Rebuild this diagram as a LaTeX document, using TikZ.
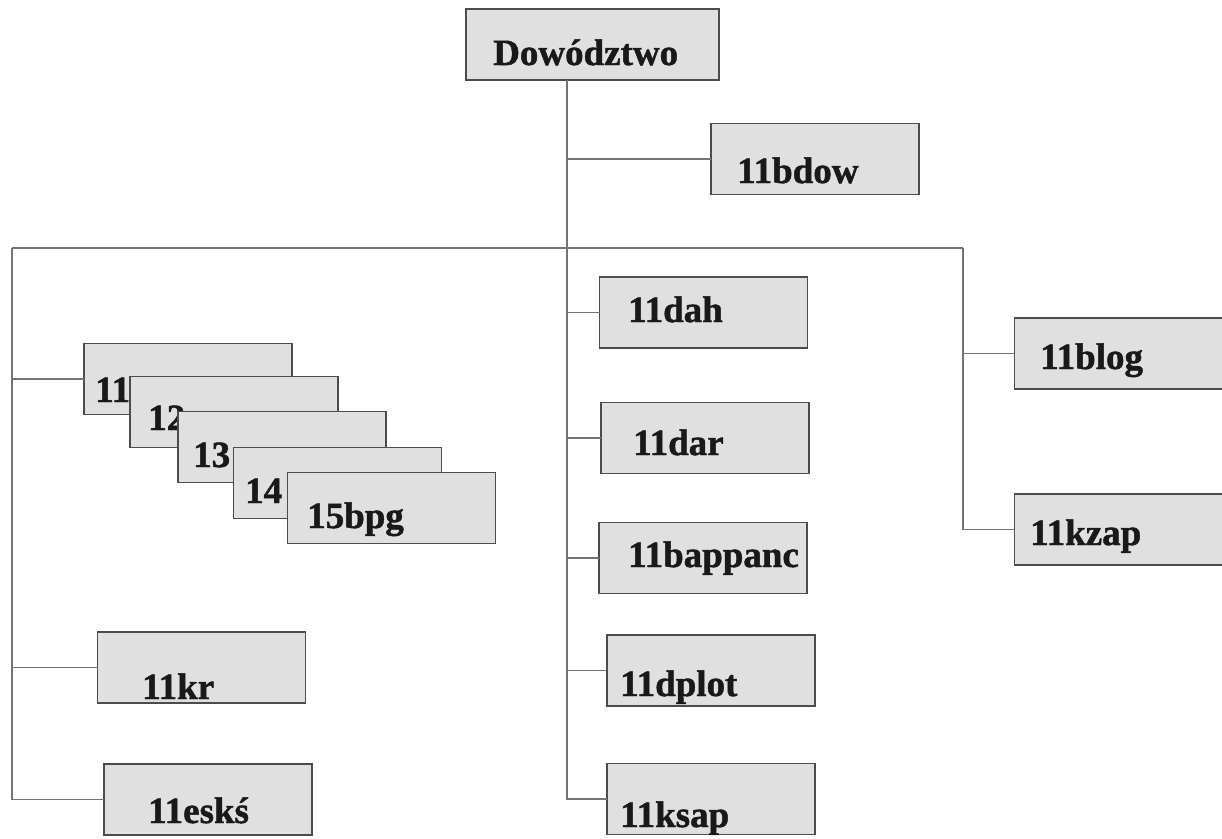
\documentclass[tikz,border=0pt]{standalone}
\usepackage{fontspec}
\setmainfont{Liberation Serif}
\newfontfamily\unitfont{Liberation Serif Bold}[FakeBold=1.2]
\usetikzlibrary{calc}

\begin{document}
\begin{tikzpicture}[
    x=1pt, y=-1pt, % work in pixels of the sheet, y downwards
    unitbox/.style={draw=black!70, line width=1.3pt, fill=black!12,
        minimum width=208pt, minimum height=71pt, inner sep=0pt, outer sep=0pt}, % Style for a unit box
    unitlabel/.style={anchor=base west, inner sep=0pt, text=black!90,
        font=\unitfont\fontsize{37}{40}\selectfont}, % Style for the unit names
    orgline/.style={draw=black!55, line width=1.1pt} % Style for the tree lines
]
    \useasboundingbox (0,0) rectangle (1222,838);

    % --- Headquarters ---
    \node[unitbox, minimum width=253pt] (dow) at (592.5,44.5) {};
    \node[unitlabel] (dow-lbl) at (493,65) {Dowództwo};

    % Tree skeleton
    \coordinate (trunk) at (567,80);    % top of the main line
    \coordinate (lcorner) at (12,248);  % left branch corner
    \coordinate (rcorner) at (963,248); % right branch corner

    % --- Units along the main line ---
    \foreach \n/\cx/\cy/\tx/\ty/\t in {bdow/815/159/737/183/11bdow,
        dah/703.5/312.5/628/322/11dah, dar/705/438/633/455/11dar,
        bappanc/703/558/628/567/11bappanc, dplot/711/670.5/620/696/11dplot,
        ksap/711/799/620/827/11ksap} {
        \node[unitbox] (\n) at (\cx,\cy) {};
        \node[unitlabel] (\n-lbl) at (\tx,\ty) {\t};
    }

    % --- Left branch (stacked brigades drawn back to front) ---
    \foreach \n/\cx/\cy/\tx/\ty/\t in {bpg11/188/379/95/402/11,
        bpg12/234/412/148/430/12, bpg13/282/447/193/467/13,
        bpg14/337.5/483/245/503/14, bpg15/391.5/508/307/528/15bpg,
        kr/201.5/667.5/142/699/11kr, esks/208/799.5/148/823/11eskś} {
        \node[unitbox] (\n) at (\cx,\cy) {};
        \node[unitlabel] (\n-lbl) at (\tx,\ty) {\t};
    }

    % --- Right branch ---
    \foreach \n/\cx/\cy/\tx/\ty/\t in {blog/1118.5/353.5/1040/369/11blog,
        kzap/1118.5/529.5/1030/545/11kzap} {
        \node[unitbox] (\n) at (\cx,\cy) {};
        \node[unitlabel] (\n-lbl) at (\tx,\ty) {\t};
    }

    % --- Lines ---
    \draw[orgline] (trunk) |- (ksap.west);
    \foreach \c in {bdow, dah, dar, bappanc, dplot} {
        \draw[orgline] (trunk |- \c.west) -- (\c.west);
    }
    \draw[orgline] (lcorner) -- (rcorner);
    \draw[orgline] (lcorner) |- (esks.west);
    \foreach \c in {bpg11, kr} {
        \draw[orgline] (lcorner |- \c.west) -- (\c.west);
    }
    \draw[orgline] (rcorner) |- (kzap.west);
    \draw[orgline] (rcorner |- blog.west) -- (blog.west);
\end{tikzpicture}
\end{document}
